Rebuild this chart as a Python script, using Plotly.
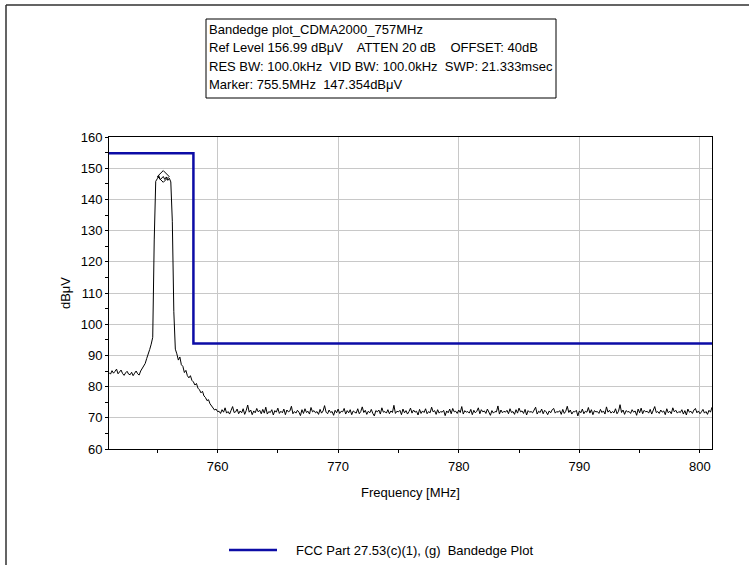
import numpy as np
import plotly.graph_objects as go

# ---------------- data ----------------
FREQ_START = 751.0      # MHz, first sweep point
FREQ_STEP = 0.125       # MHz between sweep points

# measured trace (dBuV), one value per sweep point
TRACE_LEVEL = [
    # 751.0 - 753.5 : pedestal
    84.5, 84.0, 85.1, 84.3, 84.9, 85.6, 84.1, 84.7, 85.3, 84.2, 83.6, 84.4, 84.9, 84.0, 83.8, 84.6,
    83.5, 84.3, 85.0, 84.1, 83.7,
    # rising skirt
    85.0, 85.8, 86.6, 87.4, 89.0, 90.3, 91.9, 93.6, 95.8,
    127.0,
    # channel plateau
    145.8, 146.6, 147.6, 146.3, 147.0, 147.35, 146.4, 147.2, 146.1, 146.8, 145.6,
    133.0, 104.0, 92.0,
    # falling skirt
    90.5, 88.5, 89.5, 87.0, 86.5, 84.5, 85.2, 83.5, 82.8, 83.5, 82.0, 81.5, 80.5, 81.0, 79.5,
    79.0, 78.0, 78.5, 77.0, 76.5, 75.5, 75.8, 74.5, 73.8, 73.0, 72.5, 72.8, 72.0,
    # noise floor 760.125 - 801
    72.1, 71.4, 72.6, 71.8, 73.2, 71.5, 72.0, 71.2, 72.4, 73.6, 71.7, 71.9, 72.8, 71.3, 72.2, 71.6,
    72.9, 71.1, 72.3, 74.1, 71.8, 72.5, 71.0, 72.2, 71.6, 73.0, 71.9, 72.4, 71.3, 72.7, 71.5, 73.4,
    71.2, 72.0, 71.7, 72.6, 70.9, 72.3, 71.8, 73.1, 71.4, 72.1, 71.6, 72.8, 71.0, 72.5, 71.9, 72.2,
    73.7, 71.3, 72.0, 71.5, 72.4, 71.8, 70.7, 72.6, 71.4, 72.9, 71.7, 72.1, 71.2, 73.3, 71.9, 72.3,
    71.6, 72.0, 71.1, 72.7, 71.5, 72.2, 73.9, 71.8, 71.3, 72.5, 71.7, 72.0, 70.8, 72.4, 71.6, 72.8,
    71.4, 72.1, 71.9, 73.0, 71.2, 72.3, 71.6, 72.6, 71.0, 72.2, 71.8, 71.5, 72.9, 71.3, 72.0, 73.5,
    71.7, 72.4, 71.1, 72.1, 71.6, 72.7, 71.4, 70.6, 72.3, 71.9, 72.5, 71.2, 73.2, 71.8, 72.0, 71.5,
    72.6, 71.3, 72.2, 71.7, 74.0, 71.4, 72.1, 71.9, 72.4, 71.0, 72.8, 71.6, 72.3, 71.2, 72.0, 73.1,
    71.5, 72.5, 71.8, 72.1, 70.9, 72.7, 71.4, 72.2, 71.7, 72.9, 71.3, 72.0, 71.6, 73.4, 71.9, 72.3,
    71.1, 72.6, 71.5, 72.0, 71.8, 72.4, 70.7, 72.2, 71.6, 72.8, 71.3, 73.0, 71.9, 72.1, 71.4, 72.5,
    71.7, 73.6, 71.2, 72.3, 71.8, 72.0, 71.5, 72.7, 71.0, 72.4, 71.6, 72.1, 73.2, 71.3, 72.6, 71.9,
    72.2, 71.4, 72.8, 71.7, 70.8, 72.3, 71.5, 72.0, 71.9, 73.8, 71.2, 72.5, 71.6, 72.1, 71.8, 72.4,
    71.3, 72.9, 71.7, 72.0, 71.1, 72.6, 71.5, 73.1, 71.9, 72.2, 71.4, 72.7, 70.9, 72.3, 71.8, 72.0,
    71.6, 72.5, 73.4, 71.2, 72.1, 71.7, 72.8, 71.3, 72.4, 71.9, 71.0, 72.2, 71.6, 72.6, 73.0, 71.5,
    72.0, 71.8, 72.3, 71.1, 72.7, 71.4, 72.1, 73.7, 71.7, 72.5, 71.2, 72.0, 71.9, 72.4, 70.6, 72.2,
    71.6, 72.8, 71.3, 72.1, 71.8, 73.3, 71.5, 72.6, 71.0, 72.3, 71.9, 72.0, 71.4, 72.7, 71.7, 72.2,
    71.2, 73.5, 71.8, 72.4, 71.5, 72.0, 71.6, 72.9, 71.3, 72.1, 74.2, 71.7, 72.5, 71.1, 72.3, 71.9,
    72.0, 71.4, 72.6, 71.8, 72.2, 70.8, 72.8, 71.6, 73.1, 71.3, 72.4, 71.9, 72.1, 71.5, 72.7, 71.2,
    72.3, 73.6, 71.7, 72.0, 71.4, 72.5, 71.8, 72.2, 71.0, 72.9, 71.6, 72.1, 71.3, 73.2, 71.9, 72.4,
    71.5, 72.0, 71.7, 72.6, 71.2, 72.3, 70.9, 72.8, 71.8, 72.1, 71.4, 72.5, 73.0, 71.6, 72.2, 71.3,
    71.9, 72.7, 71.5, 72.0, 71.1, 72.4, 71.8, 73.4,
]

# FCC limit line
LIMIT_FREQ = [751.0, 758.0, 758.0, 801.0]
LIMIT_LEVEL = [154.8, 154.8, 93.8, 93.8]

# marker
MARKER_FREQ = [755.5]
MARKER_LEVEL = [147.354]

HEADER_LINES = [
    "Bandedge plot_CDMA2000_757MHz",
    "Ref Level 156.99 dB\u03bcV    ATTEN 20 dB    OFFSET: 40dB",
    "RES BW: 100.0kHz  VID BW: 100.0kHz  SWP: 21.333msec",
    "Marker: 755.5MHz  147.354dB\u03bcV",
]
LEGEND_TEXT = "FCC Part 27.53(c)(1), (g)  Bandedge Plot"
X_RANGE = [751, 801]
Y_RANGE = [60, 160]

freq = FREQ_START + FREQ_STEP * np.arange(len(TRACE_LEVEL))

# ---------------- layout helpers (pixel -> paper) ----------------
W, H = 749, 565
L, R, T, B = 109, 37, 137, 116
PW, PH = W - L - R, H - T - B


def px(x):
    return (x - L) / PW


def py(y):
    return (H - B - y) / PH


FONT = "Liberation Sans, Arial, sans-serif"
BLUE = "#0c0ca6"

fig = go.Figure()
fig.add_trace(go.Scatter(x=freq, y=TRACE_LEVEL, mode="lines",
                         line=dict(color="black", width=1), showlegend=False,
                         name="Trace"))
fig.add_trace(go.Scatter(x=LIMIT_FREQ, y=LIMIT_LEVEL, mode="lines",
                         line=dict(color=BLUE, width=2.5), showlegend=False,
                         name=LEGEND_TEXT))
fig.add_trace(go.Scatter(x=MARKER_FREQ, y=MARKER_LEVEL, mode="markers",
                         marker=dict(symbol="diamond-open", size=9, color="black",
                                     line=dict(width=1, color="black")),
                         showlegend=False, name="Marker"))

axis_common = dict(showline=True, linecolor="black", linewidth=1, mirror=True,
                   showgrid=True, gridcolor="#c8c8c8", gridwidth=1,
                   ticks="outside", ticklen=3, tickcolor="black", tickwidth=1,
                   zeroline=False,
                   tickfont=dict(family=FONT, size=13, color="black"))

fig.update_layout(
    width=W, height=H,
    margin=dict(l=L, r=R, t=T, b=B),
    paper_bgcolor="white", plot_bgcolor="white",
    font=dict(family=FONT, size=13, color="black"),
    xaxis=dict(range=X_RANGE, tick0=750, dtick=10,
               minor=dict(dtick=5, tick0=750, ticks="outside", ticklen=3,
                          tickcolor="black", showgrid=False),
               ticklabelstandoff=2,
               title=dict(text="Frequency [MHz]", standoff=15,
                          font=dict(family=FONT, size=13, color="black")),
               **axis_common),
    yaxis=dict(range=Y_RANGE, tick0=60, dtick=10,
               minor=dict(dtick=5, tick0=60, ticks="outside", ticklen=3,
                          tickcolor="black", showgrid=False),
               title=dict(text="dB\u03bcV", standoff=7,
                          font=dict(family=FONT, size=13, color="black")),
               **axis_common),
    xaxis2=dict(range=X_RANGE, overlaying="x", anchor="y", showgrid=False,
                showticklabels=False, ticks="", showline=False, zeroline=False,
                dtick=10, tick0=750,
                minor=dict(dtick=5, tick0=750, ticks="inside", ticklen=3,
                           tickcolor="black", showgrid=False)),
    yaxis2=dict(range=Y_RANGE, overlaying="y", anchor="x", showgrid=False,
                showticklabels=False, ticks="", showline=False, zeroline=False,
                dtick=10, tick0=60,
                minor=dict(dtick=5, tick0=60, ticks="inside", ticklen=3,
                           tickcolor="black", showgrid=False)),
)

shapes = [
    # header box
    dict(type="rect", xref="paper", yref="paper",
         x0=px(206), x1=px(556), y0=py(98), y1=py(19),
         line=dict(color="black", width=1), fillcolor="white", layer="above"),
    # panel edge (top / left)
    dict(type="line", xref="paper", yref="paper", x0=px(6), x1=px(749),
         y0=py(5), y1=py(5), line=dict(color="#303030", width=1.5)),
    dict(type="line", xref="paper", yref="paper", x0=px(6), x1=px(6),
         y0=py(5), y1=py(565), line=dict(color="#303030", width=1.5)),
    # legend sample
    dict(type="line", xref="paper", yref="paper", x0=px(229), x1=px(277),
         y0=py(550), y1=py(550), line=dict(color=BLUE, width=2.5)),
]
fig.update_layout(shapes=shapes)

annotations = []
for i, line in enumerate(HEADER_LINES):
    annotations.append(dict(xref="paper", yref="paper", x=px(207), y=py(29.5 + 18.5 * i),
                            text=line, showarrow=False, xanchor="left", yanchor="middle",
                            font=dict(family=FONT, size=13, color="black")))
annotations.append(dict(xref="paper", yref="paper", x=px(294), y=py(550),
                        text=LEGEND_TEXT, showarrow=False, xanchor="left",
                        yanchor="middle",
                        font=dict(family=FONT, size=13, color="black")))
fig.update_layout(annotations=annotations)

fig.write_html("out.html", config={"displayModeBar": False},
               post_script="document.body.style.margin='0';document.body.style.overflow='hidden';")
